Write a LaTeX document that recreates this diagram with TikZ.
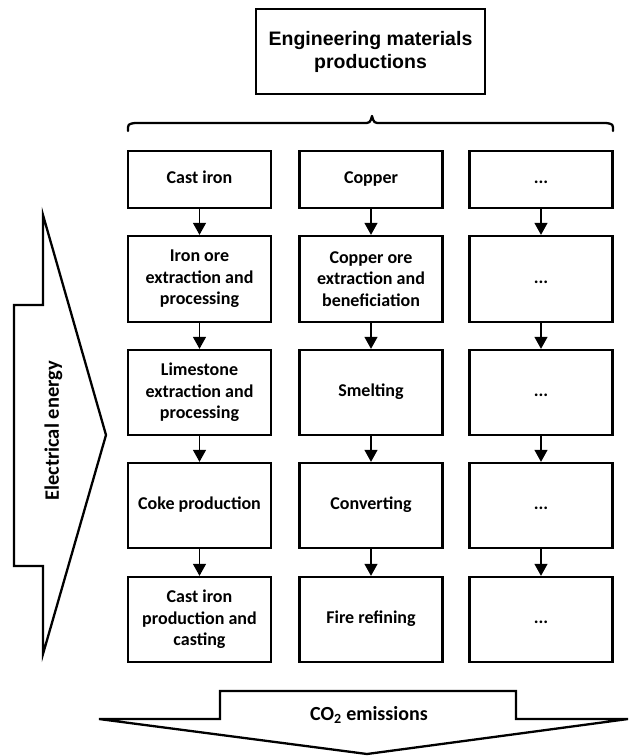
\documentclass[tikz,border=0pt]{standalone}
\usepackage{fontspec}
\setmainfont{Carlito}
\newfontfamily\arialfont{Liberation Sans}
\usetikzlibrary{arrows.meta}
\begin{document}
\begin{tikzpicture}[x=1pt,y=-1pt,
  box/.style={draw,line width=2.3pt,minimum width=143pt,align=center,
    font=\fontsize{18}{21.5}\selectfont\bfseries,inner sep=2pt},
  txt/.style={align=center,font=\fontsize{18}{21.5}\selectfont\bfseries,inner sep=2pt},
  conn/.style={line width=1.1pt,-{Triangle[width=13pt,length=12pt]}},
  bigarrow/.style={draw,line width=2.3pt,fill=white,line join=miter},
  lbl/.style={font=\fontsize{20.5}{24}\selectfont\bfseries}]
\useasboundingbox (0,0) rectangle (629,756);
% top box
\node[draw,line width=2.3pt,minimum width=229pt,minimum height=85pt,align=center,
  font=\arialfont\fontsize{19.5}{23}\selectfont\bfseries] (top) at (370.5,51.5)
  {Engineering materials\\productions};
% brace
\draw[line width=2.3pt,line cap=round,line join=round]
  (128,131) .. controls (128,124) .. (135,123) -- (363,123)
  .. controls (370,123) .. (372,116) .. controls (374,123) .. (381,123) -- (606,123)
  .. controls (613,124) .. (613,131);
% rows
\foreach \c/\x in {1/199.5,2/371,3/541}{
  \node[box,minimum height=57pt] (r1c\c) at (\x,179.5) {};
  \node[box,minimum height=86pt] (r2c\c) at (\x,279) {};
  \node[box,minimum height=85pt] (r3c\c) at (\x,392.5) {};
  \node[box,minimum height=85pt] (r4c\c) at (\x,505.5) {};
  \node[box,minimum height=85pt] (r5c\c) at (\x,619.5) {};
}
\node[txt] (t11) at (r1c1) {\strut Cast iron};
\node[txt] (t12) at (r1c2) {\strut Copper};
\node[txt] (t13) at (r1c3) {\strut ...};
\node[txt] (t21) at (r2c1) {Iron ore\\extraction and\\processing};
\node[txt] (t22) at (r2c2) {Copper ore\\extraction and\\beneficiation};
\node[txt] (t23) at (r2c3) {\strut ...};
\node[txt] (t31) at (r3c1) {Limestone\\extraction and\\processing};
\node[txt] (t32) at (r3c2) {\strut Smelting};
\node[txt] (t33) at (r3c3) {\strut ...};
\node[txt] (t41) at (r4c1) {\strut Coke production};
\node[txt] (t42) at (r4c2) {\strut Converting};
\node[txt] (t43) at (r4c3) {\strut ...};
\node[txt] (t51) at (r5c1) {Cast iron\\production and\\casting};
\node[txt] (t52) at (r5c2) {\strut Fire refining};
\node[txt] (t53) at (r5c3) {\strut ...};
\foreach \c in {1,2,3}{
  \draw[conn] (r1c\c) -- (r2c\c);
  \draw[conn] (r2c\c) -- (r3c\c);
  \draw[conn] (r3c\c) -- (r4c\c);
  \draw[conn] (r4c\c) -- (r5c\c);
}
% electrical energy arrow
\draw[bigarrow] (14,305) -- (43,305) -- (43,215) -- (106,435) -- (43,654)
  -- (43,566) -- (14,566) -- cycle;
\node[lbl,rotate=90] (elec) at (54,431) {\strut Electrical energy};
% CO2 arrow
\draw[bigarrow] (220,691) -- (516,691) -- (516,719) -- (628,719) -- (367,754)
  -- (99,719) -- (220,719) -- cycle;
\node[lbl,font=\fontsize{20}{24}\selectfont\bfseries] (co2) at (369,716) {\strut CO\textsubscript{2} emissions};
\end{tikzpicture}
\end{document}
